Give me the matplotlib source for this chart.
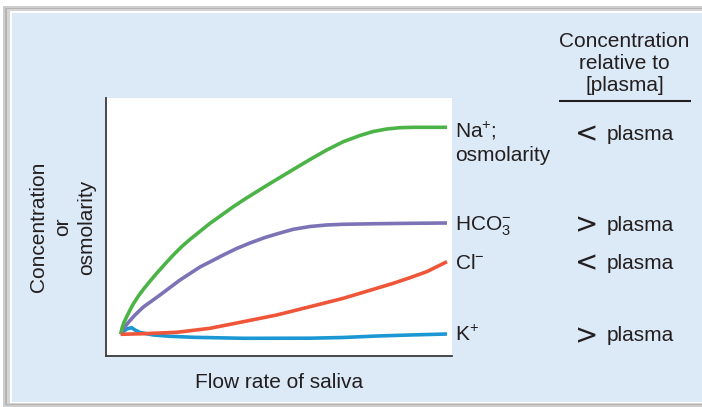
import matplotlib.pyplot as plt
from matplotlib.patches import Rectangle

plt.rcParams['font.family'] = ['Liberation Sans', 'DejaVu Sans']
plt.rcParams['mathtext.fontset'] = 'custom'
plt.rcParams['mathtext.rm'] = 'Liberation Sans'
plt.rcParams['mathtext.default'] = 'regular'

# flow rate (arbitrary units, 0-100) and relative concentration of each saliva component
na_x = [4.25, 4.62, 5.20, 5.98, 6.94, 7.89, 9.34, 10.78, 12.72, 14.65, 17.05, 19.45, 21.88,
        24.28, 27.17, 30.06, 33.44, 36.79, 40.17, 43.55, 46.82, 50.29, 54.13, 58.96, 63.79,
        68.58, 73.41, 77.25, 81.13, 84.97, 88.73, 98.55]
na_y = [8.41, 10.74, 13.06, 15.23, 17.83, 20.2, 23.2, 25.8, 29.0, 32.05, 35.66, 39.15, 42.4,
        45.2, 48.3, 51.43, 54.65, 57.87, 60.85, 63.68, 66.4, 69.2, 72.3, 76.16, 79.84,
        83.06, 85.47, 87.02, 87.98, 88.49, 88.64, 88.64]

hco3_x = [4.25, 5.00, 5.98, 6.94, 8.38, 10.78, 13.21, 15.61, 18.50, 21.39, 24.28, 27.17, 30.55,
          33.90, 37.77, 41.62, 45.95, 50.29, 54.13, 58.96, 63.79, 68.58, 78.32, 87.86, 98.55]
hco3_y = [8.41, 10.47, 12.21, 13.76, 15.89, 18.99, 21.32, 23.64, 26.55, 29.46, 31.98, 34.50, 36.82,
          39.15, 41.67, 43.80, 45.93, 47.67, 49.11, 50.19, 50.78, 51.05, 51.28, 51.43, 51.55]

cl_x = [4.25, 10.78, 20.52, 30.06, 39.68, 49.34, 58.96, 68.58, 78.24, 83.03, 87.86, 92.69, 98.55]
cl_y = [8.41, 8.64, 9.19, 10.74, 13.29, 15.89, 19.11, 22.36, 26.24, 28.18, 30.35, 32.68, 36.55]

k_x = [4.25, 5.20, 6.07, 7.42, 8.38, 9.83, 10.69, 13.67, 18.50, 25.23, 39.68, 58.96, 68.50,
       78.32, 87.86, 98.55]
k_y = [8.41, 9.69, 10.55, 10.97, 10.08, 9.11, 8.91, 8.14, 7.64, 7.25, 6.86, 6.90, 7.17,
       7.75, 8.14, 8.53]

labels = ['Na$^{+}$;\nosmolarity', 'HCO$_3^{-}$', 'Cl$^{-}$', 'K$^{+}$']
relation = ['<', '>', '<', '>']
colors = ['#4cb447', '#7b73b6', '#ef5639', '#1b98d4']

TXT = '#231f20'

fig = plt.figure(figsize=(7.02, 4.07), dpi=100)

# background panel, laid out in pixel units
bg = fig.add_axes([0, 0, 1, 1])
bg.set_xlim(0, 702)
bg.set_ylim(407, 0)
bg.axis('off')
bg.add_patch(Rectangle((3, 5.5), 710, 401, fc='#cdcdcd', ec='none'))
bg.add_patch(Rectangle((5, 7.5), 710, 397, fc='#b4b4b4', ec='none'))
bg.add_patch(Rectangle((7, 9), 710, 395, fc='#d4d4d4', ec='none'))
bg.add_patch(Rectangle((10, 11), 710, 392, fc='white', ec='none'))
bg.add_patch(Rectangle((11.5, 12.5), 710, 389.5, fc='#dce9f6', ec='none'))

bg.text(624.5, 91, 'Concentration\nrelative to\n[plasma]', ha='center', va='baseline',
        fontsize=15, color=TXT, linespacing=1.2, multialignment='center')
bg.plot([559, 691], [100.7, 100.7], color=TXT, lw=1.5, solid_capstyle='butt')

ax = fig.add_axes([106 / 702, 1 - 356 / 407, 346 / 702, 258 / 407])
ax.set_xlim(0, 100)
ax.set_ylim(0, 100)
ax.set_facecolor('white')
for s in ['top', 'right']:
    ax.spines[s].set_visible(False)
for s in ['left', 'bottom']:
    ax.spines[s].set_color('#3a3a3a')
    ax.spines[s].set_linewidth(1.3)
ax.set_xticks([])
ax.set_yticks([])

series = [(na_x, na_y), (hco3_x, hco3_y), (cl_x, cl_y), (k_x, k_y)]
order = [3, 1, 0, 2]
for i in order:
    xs, ys = series[i]
    ax.plot(xs, ys, color=colors[i], lw=2.6, solid_capstyle='butt',
            solid_joinstyle='round', clip_on=False, zorder=3 + order.index(i))

# labels at the end of each curve plus the comparison with plasma
row_shift = [-12.5, -7.5, -7.5, -7.5]
for i, (xs, ys) in enumerate(series):
    extra = labels[i].count('\n')
    ax.annotate(labels[i], xy=(xs[-1], ys[-1]), xytext=(8, -7.5 - 26 * extra),
                textcoords='offset pixels', ha='left', va='baseline',
                fontsize=15, color=TXT, linespacing=1.25, annotation_clip=False)
    ax.annotate(relation[i], xy=(575, ys[-1]), xycoords=('figure pixels', 'data'),
                xytext=(0, row_shift[i] - 2.5), textcoords='offset pixels',
                ha='left', va='baseline', fontsize=20, color=TXT,
                family='DejaVu Sans', annotation_clip=False)
    ax.annotate('plasma', xy=(607, ys[-1]), xycoords=('figure pixels', 'data'),
                xytext=(0, row_shift[i]), textcoords='offset pixels',
                ha='left', va='baseline', fontsize=15, color=TXT,
                annotation_clip=False)

ax.set_xlabel('Flow rate of saliva', fontsize=15, color=TXT, labelpad=12)
ax.set_ylabel('Concentration\nor\nosmolarity', fontsize=15, color=TXT,
              labelpad=7, linespacing=1.35)

fig.savefig('out.png', dpi=100)
